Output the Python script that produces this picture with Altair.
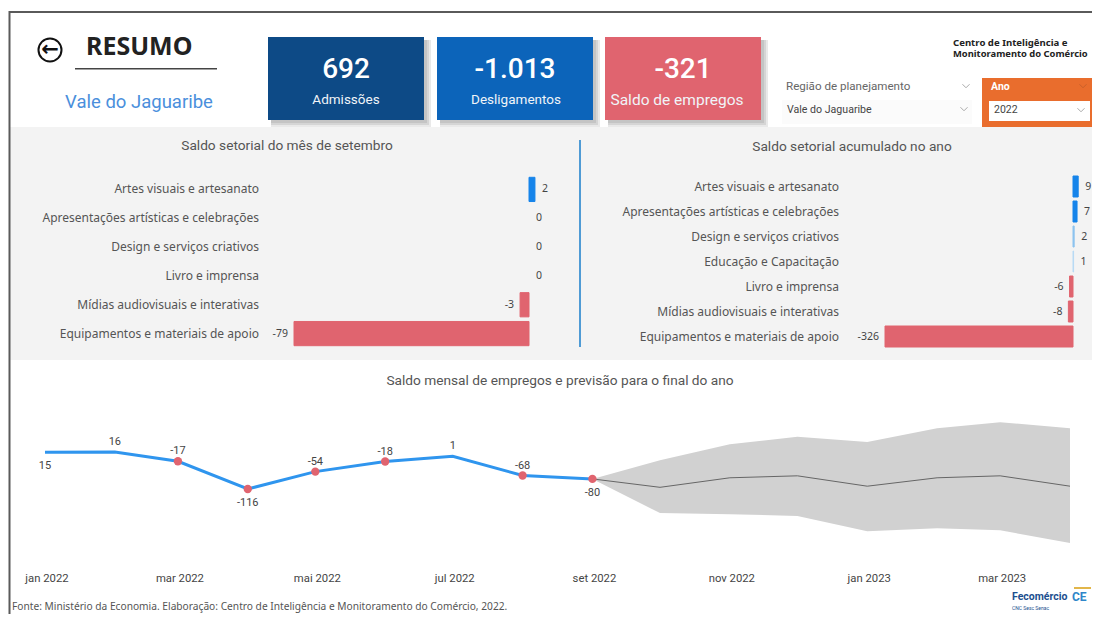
import altair as alt
import pandas as pd

W, H = 1084, 606
def P(v):
    return v - 8

# ---- data ----
KPI_VALUES = ["692", "-1.013", "-321"]
KPI_LABELS = ["Admissões", "Desligamentos", "Saldo de empregos"]
KPI_COLORS = ["#0d4a86", "#0c64ba", "#e0646f"]
KPI_LABEL_SIZES = [13.5, 13.5, 15.5]
KPI_LABEL_CENTERS = [346, 516, 677]

SET_CATS = ["Artes visuais e artesanato", "Apresentações artísticas e celebrações",
            "Design e serviços criativos", "Livro e imprensa",
            "Mídias audiovisuais e interativas", "Equipamentos e materiais de apoio"]
SET_VALS = [2, 0, 0, 0, -3, -79]

ACC_CATS = ["Artes visuais e artesanato", "Apresentações artísticas e celebrações",
            "Design e serviços criativos", "Educação e Capacitação", "Livro e imprensa",
            "Mídias audiovisuais e interativas", "Equipamentos e materiais de apoio"]
ACC_VALS = [9, 7, 2, 1, -6, -8, -326]

MONTHS = ["2022-%02d-01T00:00:00" % m for m in range(1, 10)]
SALDO = [15, 16, -17, -116, -54, -18, 1, -68, -80]
LABEL_BELOW = [True, False, False, True, False, False, False, False, True]
DOT = [False, False, True, True, True, True, False, True, True]

FC_MONTHS = ["2022-09-01T00:00:00", "2022-10-01T00:00:00", "2022-11-01T00:00:00",
             "2022-12-01T00:00:00", "2023-01-01T00:00:00", "2023-02-01T00:00:00",
             "2023-03-01T00:00:00", "2023-04-01T00:00:00"]
FC_MEAN = [-80, -110, -76, -69, -106, -76, -69, -106]
FC_UP = [-80, -13, 44, 70, 52, 101, 122, 101]
FC_LOW = [-80, -202, -206, -212, -267, -256, -263, -309]

TICK_DATES = ["2022-01-01T00:00:00", "2022-03-01T00:00:00", "2022-05-01T00:00:00",
              "2022-07-01T00:00:00", "2022-09-01T00:00:00", "2022-11-01T00:00:00",
              "2023-01-01T00:00:00", "2023-03-01T00:00:00"]
TICK_TEXT = ["jan 2022", "mar 2022", "mai 2022", "jul 2022", "set 2022",
             "nov 2022", "jan 2023", "mar 2023"]

# ---- helpers ----
layers = []

def rect(x0, y0, x1, y1, color, opacity=1.0):
    layers.append(alt.Chart(pd.DataFrame({"a": [0]})).mark_rect(color=color, opacity=opacity).encode(
        x=alt.value(P(x0)), x2=alt.value(min(P(x1), W)), y=alt.value(P(y0)), y2=alt.value(min(P(y1), H))))

def text(x, y, s, size=11, color="#555555", font="Noto Sans", weight="normal", align="left"):
    layers.append(alt.Chart(pd.DataFrame({"a": [0]})).mark_text(
        fontSize=size, color=color, font=font, fontWeight=weight, align=align, baseline="middle"
    ).encode(x=alt.value(P(x)), y=alt.value(P(y)), text=alt.value(s)))

def chevron(x, y, color="#aaaaaa"):
    layers.append(alt.Chart(pd.DataFrame({"a": [0]})).mark_point(
        shape="M-1,-0.5L0,0.5L1,-0.5", color=color, filled=False, size=50, strokeWidth=1, opacity=1
    ).encode(x=alt.value(P(x)), y=alt.value(P(y))))

# ---- background ----
rect(8, 8, 1100, 622, "#ffffff")
rect(10, 127, 1100, 360, "#f3f3f3")
rect(9, 11, 1100, 13, "#5a5a5a")
rect(8.5, 11, 10.5, 622, "#5a5a5a")

# ---- header ----
layers.append(alt.Chart(pd.DataFrame({"a": [0]})).mark_point(
    shape="circle", color="#111111", filled=False, size=530, strokeWidth=2, opacity=1
).encode(x=alt.value(P(50)), y=alt.value(P(50))))
text(50, 50, "←", size=21, color="#111111", font="DejaVu Sans", weight="bold", align="center")
text(86, 47, "RESUMO", size=25, color="#222222", weight="bold")
rect(75, 68, 217, 69.5, "#444444")
text(139, 102, "Vale do Jaguaribe", size=18.5, color="#4a8fdc", font="Roboto", align="center")

KPI_X = [(268, 424), (437, 593), (605, 761)]
for (x0, x1), v, lab, c, ls, lc in zip(KPI_X, KPI_VALUES, KPI_LABELS, KPI_COLORS,
                                       KPI_LABEL_SIZES, KPI_LABEL_CENTERS):
    for grow in (6, 4, 2):
        rect(x0 + 3, 40, x1 + grow + 1, 120 + grow + 1, "#555555", 0.13)
    rect(x0, 37, x1, 120, c)
    text((x0 + x1) / 2, 69.5, v, size=28, color="#ffffff", font="Roboto", weight=500, align="center")
    text(lc, 100, lab, size=ls, color="#f0f4f8", font="Roboto", align="center")

text(953, 43, "Centro de Inteligência e", size=9.6, color="#222222", font="Noto Sans", weight="bold")
text(953, 54, "Monitoramento do Comércio", size=9.4, color="#222222", font="Noto Sans", weight="bold")

text(786, 87, "Região de planejamento", size=11.6, color="#666666", font="Roboto")
chevron(966, 86)
rect(782, 100, 972, 124, "#fbfbfb")
text(787, 110, "Vale do Jaguaribe", size=10.6, color="#444444", font="Roboto")
chevron(964, 109)
rect(982, 78, 1098, 127, "#e96d2d")
text(991, 87, "Ano", size=10.5, color="#ffffff", font="Roboto", weight="bold")
chevron(1083, 86, "#c9602a")
rect(989, 101, 1090, 121, "#ffffff")
text(994, 110, "2022", size=10.5, color="#444444", font="Roboto")
chevron(1081, 110)

# ---- sector bars ----
def bars(cats, vals, xdom, xrange, yrange, label_right, label_size, thresholds, colors):
    d = pd.DataFrame({"c": cats, "v": vals, "z": [0] * len(vals), "t": [str(v) for v in vals]})
    y = alt.Y("c:N", sort=cats, axis=None,
              scale=alt.Scale(domain=cats, range=yrange, paddingInner=0.16, paddingOuter=0.08))
    x = alt.X("v:Q", axis=None, scale=alt.Scale(domain=xdom, range=xrange, nice=False, zero=False))
    cscale = alt.Scale(type="threshold", domain=thresholds, range=colors)
    base = alt.Chart(d)
    layers.append(base.transform_filter("datum.v != 0").mark_bar(strokeWidth=1).encode(
        x=x, x2="z:Q", y=y,
        color=alt.Color("v:Q", legend=None, scale=cscale),
        stroke=alt.Stroke("v:Q", legend=None, scale=cscale)))
    layers.append(base.transform_filter("datum.v >= 0").mark_text(
        align="left", dx=7, fontSize=10.5, color="#444444", font="Noto Sans").encode(x=x, y=y, text="t:N"))
    layers.append(base.transform_filter("datum.v < 0").mark_text(
        align="right", dx=-6, fontSize=10.5, color="#444444", font="Noto Sans").encode(x=x, y=y, text="t:N"))
    layers.append(base.mark_text(
        align="right", fontSize=label_size, color="#555555", font="Noto Sans").encode(
        x=alt.value(P(label_right)), y=y, text="c:N"))

text(287, 146, "Saldo setorial do mês de setembro", size=13.7, color="#555555", font="Roboto", align="center")
bars(SET_CATS, SET_VALS, [-79, 0], [P(294), P(529)], [P(175), P(348)], 259, 12,
     [0], ["#e0646f", "#1684ea"])

rect(579, 140, 581, 347, "#4f9bd5")

text(852, 147, "Saldo setorial acumulado no ano", size=13.7, color="#555555", font="Roboto", align="center")
bars(ACC_CATS, ACC_VALS, [-326, 0], [P(885), P(1073)], [P(174), P(349)], 839, 12,
     [0, 1.5, 5], ["#e0646f", "#b8daf4", "#8cc3ef", "#1684ea"])

# ---- line chart ----
text(560, 381, "Saldo mensal de empregos e previsão para o final do ano", size=13.7,
     color="#555555", font="Roboto", align="center")

XS = alt.Scale(domain=["2022-01-01T00:00:00", "2023-04-01T00:00:00"], range=[P(45), P(1070)])
YS = alt.Scale(domain=[-116, 16], range=[P(489), P(452)], nice=False, zero=False)
X = alt.X("m:T", axis=None, scale=XS)
Y = alt.Y("v:Q", axis=None, scale=YS)

fc = pd.DataFrame({"m": FC_MONTHS, "v": FC_MEAN, "u": FC_UP, "l": FC_LOW})
layers.append(alt.Chart(fc).mark_area(color="#d1d1d1", opacity=1).encode(
    x=X, y=alt.Y("l:Q", axis=None, scale=YS), y2="u:Q"))
layers.append(alt.Chart(fc).mark_line(color="#666666", strokeWidth=1).encode(x=X, y=Y))

ln = pd.DataFrame({"m": MONTHS, "v": SALDO, "below": LABEL_BELOW, "dot": DOT,
                   "t": [str(v) for v in SALDO]})
layers.append(alt.Chart(ln).mark_line(color="#2f95ee", strokeWidth=3).encode(x=X, y=Y))
layers.append(alt.Chart(ln).transform_filter("datum.dot").mark_point(
    color="#e0646f", filled=True, size=70, opacity=1).encode(x=X, y=Y))
layers.append(alt.Chart(ln).transform_filter("datum.below").mark_text(
    dy=14, fontSize=11, color="#444444", font="Roboto").encode(x=X, y=Y, text="t:N"))
layers.append(alt.Chart(ln).transform_filter("!datum.below").mark_text(
    dy=-10, fontSize=11, color="#444444", font="Roboto").encode(x=X, y=Y, text="t:N"))

ticks = pd.DataFrame({"m": TICK_DATES, "t": TICK_TEXT})
layers.append(alt.Chart(ticks).mark_text(dx=2, fontSize=11.3, color="#444444", font="Roboto").encode(
    x=X, y=alt.value(P(579)), text="t:N"))

# ---- footer ----
text(12, 607, "Fonte: Ministério da Economia. Elaboração: Centro de Inteligência e Monitoramento do Comércio, 2022.",
     size=10.2, color="#555555", font="Noto Sans")
text(1012, 597, "Fecomércio", size=10.5, color="#1c4f8f", font="Roboto", weight="bold")
text(1072, 597, "CE", size=12, color="#2f86c9", font="Roboto", weight="bold")
text(1012, 608, "CNC Sesc Senac", size=5, color="#1c4f8f", font="Roboto")
rect(1074, 587, 1091, 589, "#e2b64a")

chart = alt.layer(*layers).resolve_scale(
    x="independent", y="independent", color="independent", stroke="independent"
).properties(
    width=W, height=H, padding=0, background="white",
    autosize=alt.AutoSizeParams(type="none")
).configure_view(stroke=None)

chart.save("out.html", embed_options={"renderer": "svg", "actions": False})
